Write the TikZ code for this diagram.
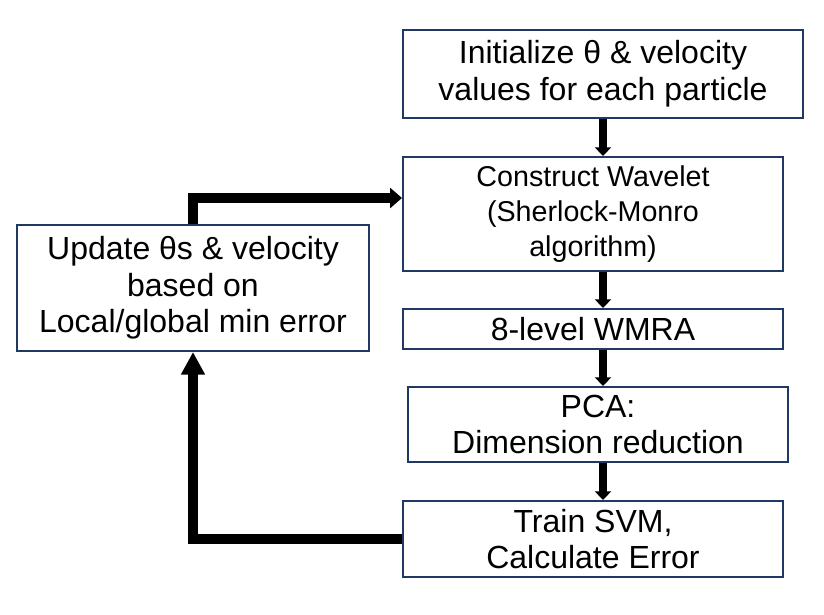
\documentclass[tikz,border=0pt]{standalone}
\usepackage{fontspec}
\setmainfont{Liberation Sans}
\usetikzlibrary{arrows.meta}
\definecolor{boxblue}{RGB}{31,56,100}
\tikzset{
  stepbox/.style={draw=boxblue, line width=1.5pt, rectangle, inner sep=0pt,
    align=center, fill=white, font=\fontsize{24}{27.5}\selectfont},
  flow/.style={line width=6pt, -{Triangle[width=12pt,length=6.5pt]}},
  loopline/.style={line width=7.5pt, line join=miter},
}
\begin{document}
\begin{tikzpicture}[x=0.75pt,y=-0.75pt]
\fill[white] (0,0) rectangle (824,614);
\useasboundingbox (0,0) rectangle (824,614);

\node[stepbox, minimum width=300pt, minimum height=66pt] (init) at (603,74)
  {Initialize θ \& velocity\\values for each particle};
\node[stepbox, minimum width=285pt, minimum height=85.5pt,
  font=\fontsize{21.5}{26}\selectfont] (wave) at (593,214)
  {Construct Wavelet\\(Sherlock-Monro\\algorithm)};
\node[stepbox, minimum width=285pt, minimum height=30pt] (wmra) at (593,329)
  {8-level WMRA};
\node[stepbox, minimum width=285pt, minimum height=56.25pt] (pca) at (598,424.5)
  {PCA:\\Dimension reduction};
\node[stepbox, minimum width=285pt, minimum height=57pt] (svm) at (593,539)
  {Train SVM,\\Calculate Error};
\node[stepbox, minimum width=264pt, minimum height=94.5pt] (upd) at (193,288)
  {Update θs \& velocity\\based on\\Local/global min error};

\draw[flow] (init.south) -- (init.south |- wave.north);
\draw[flow] (init.south |- wave.south) -- (init.south |- wmra.north);
\draw[flow] (init.south |- wmra.south) -- (init.south |- pca.north);
\draw[flow] (init.south |- pca.south) -- (init.south |- svm.north);

\draw[loopline, -{Triangle[width=15pt,length=9pt]}]
  (upd.north) -- ++(0,-26) coordinate (c1) -- (c1 -| wave.west);
\draw[loopline, -{Triangle[width=17pt,length=17pt]}]
  (svm.west) -| (upd.south);
\end{tikzpicture}
\end{document}
